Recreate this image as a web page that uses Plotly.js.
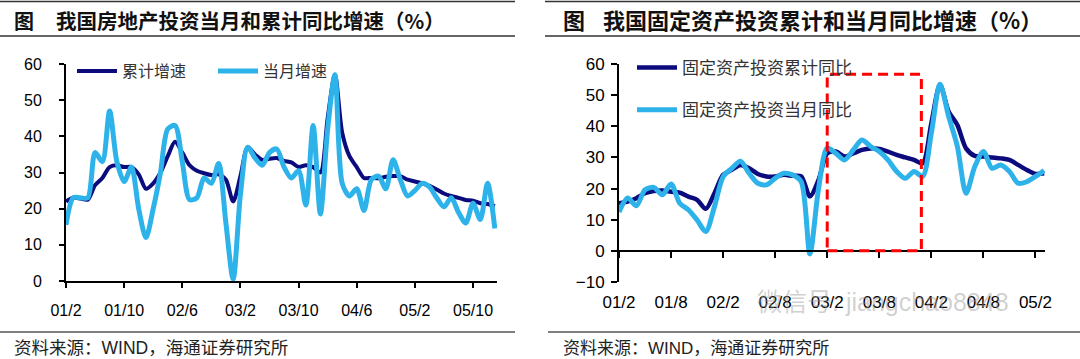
<!DOCTYPE html>
<html>
<head>
<meta charset="utf-8">
<script src="https://cdn.plot.ly/plotly-3.0.1.min.js"></script>
<style>
html,body{margin:0;padding:0;background:#fff;}
#chart{width:1080px;height:359px;}
</style>
</head>
<body>
<div id="chart"></div>
<script>
// ---------- DATA ----------
// Left chart: real-estate investment growth (%), monthly from 2001/2
const leftStart = [2001, 2];
const leftTickLabels = ['01/2','01/10','02/6','03/2','03/10','04/6','05/2','05/10'];
const reCumulative = [22, 23, 22.8, 22.5, 26.5, 28.5, 31.5, 32, 31.5, 31.5,
  29.5, 25.5, 27, 30, 34.5, 38.5, 35.5, 32, 30.5, 29.8,
  29.3, 29.5, 28, 22, 29, 37, 35, 33.5, 33.8, 34,
  33.2, 32.8, 31.5, 32, 31.5, 30, 45, 57, 41, 34.5,
  31.5, 28.5, 28.5, 28.4, 28.8, 29, 29, 28, 27.5, 27,
  26.3, 25.3, 24.2, 23.5, 23, 22.4, 22.2, 21.5, 21.3, 20.7];
const reMonthly = [15.5, 23, 23, 23, 35.5, 33, 47, 33, 27.5, 31.5,
  20, 12, 20, 30, 42, 43, 33, 22.5, 23, 28.5,
  27, 32.5, 16, 0.5, 24, 37, 34, 32, 35.5, 36.5,
  31.5, 28.5, 30.5, 21, 43, 18.5, 42, 57, 27, 23.5,
  25.5, 19.5, 28, 29, 25.5, 33.5, 28, 23.5, 25, 27,
  26, 23, 20.5, 23, 19, 16, 21.5, 17, 27, 14.5];

// Right chart: fixed-asset investment growth (%), monthly from 2001/2
const rightStart = [2001, 2];
const rightTickLabels = ['01/2','01/8','02/2','02/8','03/2','03/8','04/2','04/8','05/2'];
const faiCumulative = [15.3, 15.8, 16.9, 18.5, 19.2, 19.4, 19, 18.7, 17.4, 16.4,
  13.5, 18.5, 24.4, 26, 27.6, 26.5, 24.7, 23.9, 23.9, 24.4,
  24.1, 23.9, 17.5, 22.8, 31.3, 31.9, 30.3, 31.3, 32.4, 32.9,
  32.7, 31.9, 30.8, 30, 29.2, 28.1, 41, 53.3, 44.7, 40.4,
  32.9, 30.5, 30.3, 30, 29.7, 29.2, 27.6, 26, 24.7, 24.9];
const faiMonthly = [12.5, 17, 14.5, 19.6, 20.4, 18, 21.5, 15.3, 13.2, 9.9,
  6.2, 14.2, 23.8, 26.5, 28.8, 24.9, 21.7, 21.2, 23.3, 24.9,
  24.4, 22.2, -1, 20, 33, 31.3, 29.2, 32.4, 35.6, 33.5,
  31.9, 29.2, 25.5, 23.3, 25.5, 23.9, 37.8, 53.5, 43.1, 33.5,
  18.5, 27, 31.9, 26.5, 27.6, 25.5, 21.7, 22.2, 23.9, 25.8];

// Highlighted period (category index range) and its top value
const highlightFrom = 24, highlightTo = 34.85, highlightTop = 56.7;

// ---------- HELPERS ----------
function monthSeq(start, n) {
  const out = [];
  let y = start[0], m = start[1];
  for (let i = 0; i < n; i++) {
    out.push(String(y % 100).padStart(2, '0') + '/' + m);
    m++; if (m > 12) { m = 1; y++; }
  }
  return out;
}
const leftMonths = monthSeq(leftStart, reCumulative.length);
const rightMonths = monthSeq(rightStart, faiCumulative.length);

const W = 1080, H = 359;
const fx = x => x / W;
const fy = y => 1 - y / H;

const NAVY = '#0B0B7E';
const LIGHT = '#2DB3EA';
const NUMFONT = 'Liberation Sans, Arial, sans-serif';
const CJK = 'Noto Sans CJK SC, sans-serif';
const MIXED = 'Liberation Sans, Noto Sans CJK SC, sans-serif';

// ---------- TRACES ----------
const traces = [
  {x: leftMonths, y: reCumulative, name: '累计增速', type: 'scatter', mode: 'lines',
   line: {color: NAVY, width: 4, shape: 'spline', smoothing: 0.8}, xaxis: 'x', yaxis: 'y', legend: 'legend'},
  {x: leftMonths, y: reMonthly, name: '当月增速', type: 'scatter', mode: 'lines',
   line: {color: LIGHT, width: 5, shape: 'spline', smoothing: 0.8}, xaxis: 'x', yaxis: 'y', legend: 'legend'},
  {x: rightMonths, y: faiCumulative, name: '固定资产投资累计同比', type: 'scatter', mode: 'lines',
   line: {color: NAVY, width: 4.5, shape: 'spline', smoothing: 0.8}, xaxis: 'x2', yaxis: 'y2',
   legend: 'legend2', legendgroup: 'a'},
  {x: rightMonths, y: faiMonthly, name: '固定资产投资当月同比', type: 'scatter', mode: 'lines',
   line: {color: LIGHT, width: 5, shape: 'spline', smoothing: 0.8}, xaxis: 'x2', yaxis: 'y2',
   legend: 'legend2', legendgroup: 'b'},
  // helper trace so the zero-line axis (x3) is laid out
  {x: rightMonths, y: faiCumulative, type: 'scatter', mode: 'lines', opacity: 0,
   line: {width: 0}, xaxis: 'x3', yaxis: 'y2', showlegend: false, hoverinfo: 'skip'}
];

const axisCommon = {
  showgrid: false, zeroline: false, showline: true, linecolor: '#000', linewidth: 2,
  ticks: 'outside', tickcolor: '#000', tickwidth: 2, fixedrange: true
};

const layout = {
  width: W, height: H,
  margin: {l: 0, r: 0, t: 0, b: 0, pad: 0},
  paper_bgcolor: '#fff', plot_bgcolor: 'rgba(0,0,0,0)',
  font: {family: NUMFONT, color: '#000'},
  xaxis: Object.assign({}, axisCommon, {
    domain: [fx(66), fx(497)], anchor: 'y', type: 'category',
    range: [0, 59.3], tickmode: 'array', tickvals: leftTickLabels, ticktext: leftTickLabels,
    ticklen: 5, tickfont: {size: 16, family: NUMFONT, color: '#000'}, ticklabelstandoff: 9
  }),
  yaxis: Object.assign({}, axisCommon, {
    domain: [fy(281), fy(64)], anchor: 'x', range: [0, 60], dtick: 10, tick0: 0,
    ticklen: 5, tickfont: {size: 16, family: NUMFONT, color: '#000'}, ticklabelstandoff: 14
  }),
  xaxis2: Object.assign({}, axisCommon, {
    domain: [fx(619), fx(1045)], anchor: 'y2', type: 'category',
    range: [0, 49.1], tickmode: 'array', tickvals: rightTickLabels, ticktext: rightTickLabels,
    showline: false, ticks: '', tickfont: {size: 17, family: NUMFONT, color: '#000'}, ticklabelstandoff: 8
  }),
  xaxis3: Object.assign({}, axisCommon, {
    overlaying: 'x2', anchor: 'free', position: fy(251), type: 'category',
    range: [0, 49.1], tickmode: 'array', tickvals: rightTickLabels, showticklabels: false,
    ticklen: 6
  }),
  yaxis2: Object.assign({}, axisCommon, {
    domain: [fy(282), fy(64)], anchor: 'x2', range: [-10, 60], dtick: 10, tick0: 0,
    ticklen: 6, tickfont: {size: 17, family: NUMFONT, color: '#000'}, ticklabelstandoff: 3
  }),
  showlegend: true,
  legend: {
    orientation: 'h', x: fx(72), y: fy(71), xanchor: 'left', yanchor: 'middle',
    bgcolor: 'rgba(0,0,0,0)', font: {family: CJK, size: 16, color: '#333'},
    entrywidth: 86, itemwidth: 40, traceorder: 'normal'
  },
  legend2: {
    orientation: 'v', x: fx(632), y: fy(50), xanchor: 'left', yanchor: 'top',
    bgcolor: 'rgba(0,0,0,0)', font: {family: CJK, size: 17, color: '#333'},
    traceorder: 'grouped', tracegroupgap: 17, itemwidth: 40
  },
  shapes: [
    // highlighted period
    {type: 'rect', xref: 'x2', yref: 'y2', x0: highlightFrom, x1: highlightTo, y0: 0, y1: highlightTop,
     line: {color: '#FF0000', width: 3, dash: '10px,6px'}, fillcolor: 'rgba(0,0,0,0)', layer: 'above'},
    // header / footer rules
    {type: 'line', xref: 'paper', yref: 'paper', x0: 0, x1: fx(515), y0: fy(1.5), y1: fy(1.5), line: {color: '#333', width: 1.5}},
    {type: 'line', xref: 'paper', yref: 'paper', x0: 0, x1: fx(515), y0: fy(36), y1: fy(36), line: {color: '#333', width: 1.5}},
    {type: 'line', xref: 'paper', yref: 'paper', x0: 0, x1: fx(515), y0: fy(332), y1: fy(332), line: {color: '#555', width: 1.5}},
    {type: 'line', xref: 'paper', yref: 'paper', x0: fx(545), x1: 1, y0: fy(1.5), y1: fy(1.5), line: {color: '#333', width: 1.5}},
    {type: 'line', xref: 'paper', yref: 'paper', x0: fx(545), x1: 1, y0: fy(36), y1: fy(36), line: {color: '#333', width: 1.5}},
    {type: 'line', xref: 'paper', yref: 'paper', x0: fx(548), x1: 1, y0: fy(332), y1: fy(332), line: {color: '#555', width: 1.5}}
  ],
  annotations: [
    {text: '图', xref: 'paper', yref: 'paper', x: fx(12), y: fy(20), xanchor: 'left', yanchor: 'middle',
     showarrow: false, font: {family: CJK, size: 20, color: '#111', weight: 'bold'}},
    {text: '我国房地产投资当月和累计同比增速（%）', xref: 'paper', yref: 'paper', x: fx(54), y: fy(20),
     xanchor: 'left', yanchor: 'middle', showarrow: false, font: {family: CJK, size: 20.5, color: '#111', weight: 'bold'}},
    {text: '图', xref: 'paper', yref: 'paper', x: fx(561), y: fy(19), xanchor: 'left', yanchor: 'middle',
     showarrow: false, font: {family: CJK, size: 22, color: '#111', weight: 'bold'}},
    {text: '我国固定资产投资累计和当月同比增速（%）', xref: 'paper', yref: 'paper', x: fx(601), y: fy(19),
     xanchor: 'left', yanchor: 'middle', showarrow: false, font: {family: CJK, size: 22, color: '#111', weight: 'bold'}},
    {text: '资料来源：WIND，海通证券研究所', xref: 'paper', yref: 'paper', x: fx(12), y: fy(348),
     xanchor: 'left', yanchor: 'middle', showarrow: false, font: {family: MIXED, size: 17.5, color: '#222'}},
    {text: '资料来源：WIND，海通证券研究所', xref: 'paper', yref: 'paper', x: fx(561), y: fy(348),
     xanchor: 'left', yanchor: 'middle', showarrow: false, font: {family: MIXED, size: 17, color: '#222'}},
    {text: '微信号: jiangchao8848', xref: 'paper', yref: 'paper', x: fx(755), y: fy(302),
     xanchor: 'left', yanchor: 'middle', showarrow: false, font: {family: MIXED, size: 25, color: 'rgba(150,150,150,0.45)'}}
  ]
};

Plotly.newPlot('chart', traces, layout, {staticPlot: true, displayModeBar: false});
</script>
</body>
</html>
